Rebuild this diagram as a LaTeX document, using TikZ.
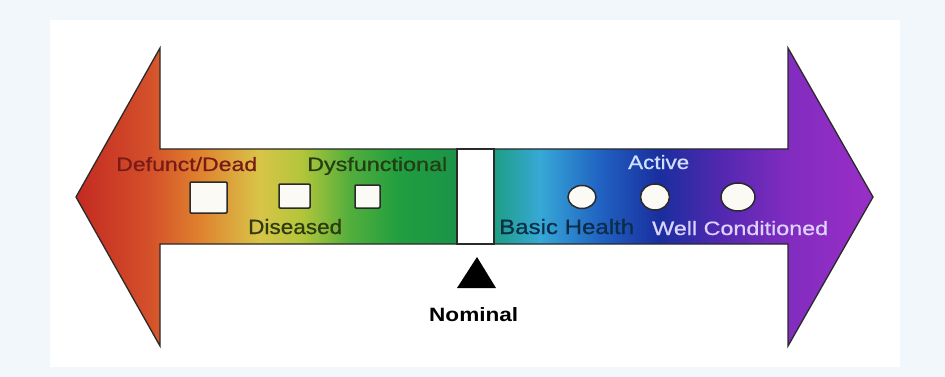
\documentclass[tikz,border=0pt]{standalone}
\usepackage{fontspec}
\usepackage{graphicx}
\newfontfamily\labfont[FakeBold=0.6]{Liberation Sans}
\newfontfamily\nomfont{Liberation Sans}
\usetikzlibrary{shapes.geometric}
\definecolor{outerbg}{HTML}{F2F7FB}
\definecolor{arrowline}{HTML}{2A2A2A}
\definecolor{sA}{HTML}{C42A22}
\definecolor{sB}{HTML}{D4502A}
\definecolor{sC}{HTML}{E0822E}
\definecolor{sD}{HTML}{D8C448}
\definecolor{sE}{HTML}{B4C63A}
\definecolor{sF}{HTML}{52AE3C}
\definecolor{sG}{HTML}{209E40}
\definecolor{sH}{HTML}{1A9448}
\definecolor{sI}{HTML}{1E9E84}
\definecolor{sJ}{HTML}{36A8D6}
\definecolor{sK}{HTML}{2062C2}
\definecolor{sL}{HTML}{1A2E9E}
\definecolor{sM}{HTML}{5228B0}
\definecolor{sN}{HTML}{822CC0}
\definecolor{sO}{HTML}{9A2EC6}
\definecolor{tRed}{HTML}{7A1A18}
\definecolor{tGreen}{HTML}{253D12}
\definecolor{tOlive}{HTML}{2E3A12}
\definecolor{tTeal}{HTML}{0C2C48}
\definecolor{tActive}{HTML}{CFE0FF}
\definecolor{tWell}{HTML}{DCD4FF}
\definecolor{markfill}{HTML}{FBFAF4}
\pgfdeclarehorizontalshading{spectrum}{100bp}{%
color(0bp)=(sA); color(25bp)=(sA); color(29.6bp)=(sB); color(32.8bp)=(sC);
color(36.5bp)=(sD); color(39.1bp)=(sE); color(42.2bp)=(sF); color(45.3bp)=(sG);
color(48.9bp)=(sH); color(51.2bp)=(sI); color(54.1bp)=(sJ); color(57.9bp)=(sK);
color(61.6bp)=(sL); color(65.4bp)=(sM); color(69.8bp)=(sN); color(75bp)=(sO);
color(100bp)=(sO)}
\begin{document}
\begin{tikzpicture}[x=1pt,y=-1pt,
  lab/.style={inner sep=0pt, anchor=base west, font=\labfont},
  sqmark/.style={draw=arrowline, fill=markfill, line width=1.5pt, inner sep=0pt, rounded corners=1pt},
  elmark/.style={ellipse, draw=arrowline, fill=markfill, line width=1.5pt, inner sep=0pt}]
\useasboundingbox (0,0) rectangle (945,377);
\fill[outerbg] (0,0) rectangle (945,377);
\fill[white] (50,20) rectangle (900,367);
% double arrow
\shadedraw[shading=spectrum, draw=arrowline, line width=1.3pt, line join=miter]
  (76,197) -- (160,48) -- (160,149) -- (788,149) -- (788,48) -- (873,197)
  -- (788,346) -- (788,244) -- (160,244) -- (160,346) -- cycle;
% nominal bar
\node[draw=arrowline, fill=white, line width=1.3pt, inner sep=0pt,
  minimum width=37, minimum height=95] (bar) at (475.5,196.5) {};
% squares
\node[sqmark, minimum width=37, minimum height=31] (sq1) at (208.5,197.5) {};
\node[sqmark, minimum width=31, minimum height=24] (sq2) at (294.5,196) {};
\node[sqmark, minimum width=25, minimum height=23] (sq3) at (367.5,196.5) {};
% circles
\node[elmark, minimum width=28, minimum height=23] (c1) at (582,197) {};
\node[elmark, minimum width=29, minimum height=26] (c2) at (655,197) {};
\node[elmark, minimum width=34, minimum height=28] (c3) at (738,197) {};
% triangle
\fill[black] (477,257) -- (496,288) -- (457,288) -- cycle;
% labels
\node[lab, text=tRed] (defunct) at (116,171) {\resizebox{141pt}{14pt}{Defunct/Dead}};
\node[lab, text=tGreen] (dysf) at (307,171) {\resizebox{140pt}{14pt}{Dysfunctional}};
\node[lab, text=tOlive] (dis) at (248,234) {\resizebox{94pt}{15pt}{Diseased}};
\node[lab, text=tTeal] (basic) at (499,234) {\resizebox{135pt}{15pt}{Basic Health}};
\node[lab, text=tActive] (active) at (628,169) {\resizebox{61pt}{14pt}{Active}};
\node[lab, text=tWell] (well) at (652,235) {\resizebox{176pt}{14pt}{Well Conditioned}};
\node[lab, text=black, font=\nomfont\bfseries] (nominal) at (429,321) {\resizebox{89pt}{14pt}{Nominal}};
\end{tikzpicture}
\end{document}
